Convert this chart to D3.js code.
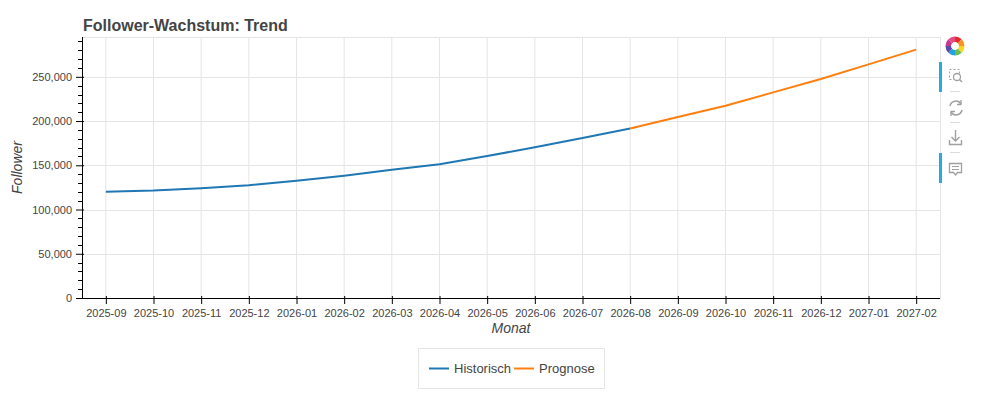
<!DOCTYPE html>
<html><head><meta charset="utf-8">
<script src="https://cdn.jsdelivr.net/npm/d3@7"></script>
<style>
html,body{margin:0;padding:0;background:#fff;}
svg{display:block;font-family:"Liberation Sans",Arial,Helvetica,sans-serif;}
</style></head>
<body><svg id="chart" width="985" height="406"></svg>
<script>
const months = ["2025-09","2025-10","2025-11","2025-12","2026-01","2026-02","2026-03","2026-04","2026-05","2026-06","2026-07","2026-08","2026-09","2026-10","2026-11","2026-12","2027-01","2027-02"];
const histMonths = ["2025-09","2025-10","2025-11","2025-12","2026-01","2026-02","2026-03","2026-04","2026-05","2026-06","2026-07","2026-08"];
const histValues = [120000,121400,124100,127500,132400,138300,145000,151300,160400,170300,180800,191500];
const fcMonths = ["2026-08","2026-09","2026-10","2026-11","2026-12","2027-01","2027-02"];
const fcValues = [191500,204500,217300,232400,247500,264100,280700];
const yTicks = [0,50000,100000,150000,200000,250000];
const yMax = 295000;
const title = "Follower-Wachstum: Trend";
const xLabel = "Monat", yLabel = "Follower";
const seriesNames = ["Historisch","Prognose"];
const colors = ["#1f77b4","#ff7f0e"];

const svg = d3.select("#chart");
const L = 82, R = 940, T = 37, B = 298;
const x = d3.scalePoint().domain(months).range([L, R]).padding(0.5);
const y = d3.scaleLinear().domain([0, yMax]).range([B, T]);
const txt = "#444";

// frame outline
svg.append("rect").attr("x",L+0.5).attr("y",T+0.5).attr("width",R-L).attr("height",B-T)
  .attr("fill","none").attr("stroke","#e5e5e5");

// grid
const g = svg.append("g");
g.selectAll(".vg").data(months).join("line")
  .attr("x1", d => x(d)).attr("x2", d => x(d)).attr("y1", T).attr("y2", B)
  .attr("stroke", "#e5e5e5").attr("stroke-width", 1);
g.selectAll(".hg").data(yTicks).join("line")
  .attr("x1", L).attr("x2", R).attr("y1", d => Math.round(y(d))+0.5).attr("y2", d => Math.round(y(d))+0.5)
  .attr("stroke", "#e5e5e5").attr("stroke-width", 1);

// lines
const line = d3.line().x(d => x(d[0])).y(d => y(d[1]));
svg.append("path").datum(histMonths.map((m,i)=>[m,histValues[i]]))
  .attr("d", line).attr("fill","none").attr("stroke",colors[0]).attr("stroke-width",2);
svg.append("path").datum(fcMonths.map((m,i)=>[m,fcValues[i]]))
  .attr("d", line).attr("fill","none").attr("stroke",colors[1]).attr("stroke-width",2);

// y axis
const yAxis = d3.axisLeft(y).tickValues(yTicks).tickFormat(d3.format(",")).tickSizeOuter(0).tickSizeInner(6).tickPadding(4);
const ya = svg.append("g").attr("transform", `translate(${L},0)`).call(yAxis);
ya.select(".domain").attr("stroke","#000").attr("d", `M0.5,${T}V${B}`);
ya.selectAll(".tick line").attr("stroke","#000").attr("x1",2);
ya.selectAll(".tick text").attr("fill",txt).style("font-size","11px");
const minor = d3.range(10000, yMax, 10000).filter(v => v % 50000 !== 0);
ya.selectAll(".minor").data(minor).join("line")
  .attr("x1",-4).attr("x2",0).attr("y1",d=>Math.round(y(d))+0.5).attr("y2",d=>Math.round(y(d))+0.5)
  .attr("stroke","#000");

// x axis
const xAxis = d3.axisBottom(x).tickSizeOuter(0).tickSizeInner(6).tickPadding(5);
const xa = svg.append("g").attr("transform", `translate(0,${B})`).call(xAxis);
xa.select(".domain").attr("stroke","#000").attr("d", `M${L},0.5H${R}`);
xa.selectAll(".tick line").attr("stroke","#000").attr("y1",-2);
xa.selectAll(".tick text").attr("fill",txt).style("font-size","11px");

// axis labels
svg.append("text").attr("x",(L+R)/2).attr("y",333).attr("text-anchor","middle")
  .attr("fill",txt).style("font-size","14px").style("font-style","italic").text(xLabel);
svg.append("text").attr("transform",`translate(22,${(T+B)/2}) rotate(-90)`).attr("text-anchor","middle")
  .attr("fill",txt).style("font-size","14px").style("font-style","italic").text(yLabel);

// title
svg.append("text").attr("x",83).attr("y",31).attr("fill",txt)
  .style("font-size","16px").style("font-weight","bold").text(title);

// legend
const lg = svg.append("g");
lg.append("rect").attr("x",418.5).attr("y",348.5).attr("width",186).attr("height",40)
  .attr("fill","#fff").attr("stroke","#e5e5e5");
let lx = 429;
seriesNames.forEach((n,i)=>{
  lg.append("line").attr("x1",lx).attr("x2",lx+20).attr("y1",368.5).attr("y2",368.5)
    .attr("stroke",colors[i]).attr("stroke-width",2);
  const t = lg.append("text").attr("x",lx+25).attr("y",373).attr("fill",txt).style("font-size","13px").text(n);
  lx = lx + 25 + t.node().getComputedTextLength() + 3;
});

// toolbar
const tb = svg.append("g");
tb.append("rect").attr("x",939).attr("y",62).attr("width",3).attr("height",30).attr("fill","#26aae1");
tb.append("rect").attr("x",939).attr("y",153).attr("width",3).attr("height",30).attr("fill","#26aae1");
const logoCols = ["#e32c2c","#f7931e","#f9d423","#6cc04a","#1fa4e0","#5b4aa8","#c7358f","#e64a7f"];
logoCols.forEach((c,i)=>{
  const a0 = i/8*2*Math.PI, a1 = (i+1)/8*2*Math.PI;
  tb.append("path").attr("transform","translate(955,46)")
    .attr("d", d3.arc().innerRadius(4).outerRadius(9.5).startAngle(a0).endAngle(a1)())
    .attr("fill",c);
});
const ic = "#a0a0a0";
// zoom box icon
tb.append("rect").attr("x",949.5).attr("y",69.5).attr("width",10).attr("height",10)
  .attr("fill","none").attr("stroke",ic).attr("stroke-dasharray","2,2");
tb.append("circle").attr("cx",957).attr("cy",77).attr("r",3.5).attr("fill","#fff").attr("stroke",ic).attr("stroke-width",1.3);
tb.append("line").attr("x1",959.5).attr("y1",79.5).attr("x2",962).attr("y2",82).attr("stroke",ic).attr("stroke-width",1.5);
tb.append("line").attr("x1",950).attr("x2",960).attr("y1",91.5).attr("y2",91.5).attr("stroke","#ddd");
// reset icon
tb.append("path").attr("d","M950,106 A6,6 0 0 1 961,104 M962,110 A6,6 0 0 1 951,112")
  .attr("fill","none").attr("stroke",ic).attr("stroke-width",1.5);
tb.append("path").attr("d","M961,100 L961,104.5 L957,104.5").attr("fill","none").attr("stroke",ic).attr("stroke-width",1.3);
tb.append("path").attr("d","M951,116 L951,111.5 L955,111.5").attr("fill","none").attr("stroke",ic).attr("stroke-width",1.3);
tb.append("line").attr("x1",950).attr("x2",960).attr("y1",122.5).attr("y2",122.5).attr("stroke","#ddd");
// save icon
tb.append("path").attr("d","M955.5,130 V141 M951.5,137 L955.5,141 L959.5,137 M949.5,140 V144.5 H961.5 V140")
  .attr("fill","none").attr("stroke",ic).attr("stroke-width",1.4);
tb.append("line").attr("x1",950).attr("x2",960).attr("y1",152.5).attr("y2",152.5).attr("stroke","#ddd");
// hover icon
tb.append("path").attr("d","M949.5,163.5 H961.5 V172.5 H957.5 L955.5,175 L953.5,172.5 H949.5 Z")
  .attr("fill","none").attr("stroke",ic).attr("stroke-width",1.3);
tb.append("path").attr("d","M952,166.5 H959 M952,169.5 H959").attr("stroke",ic).attr("stroke-width",1.2);
</script></body></html>
